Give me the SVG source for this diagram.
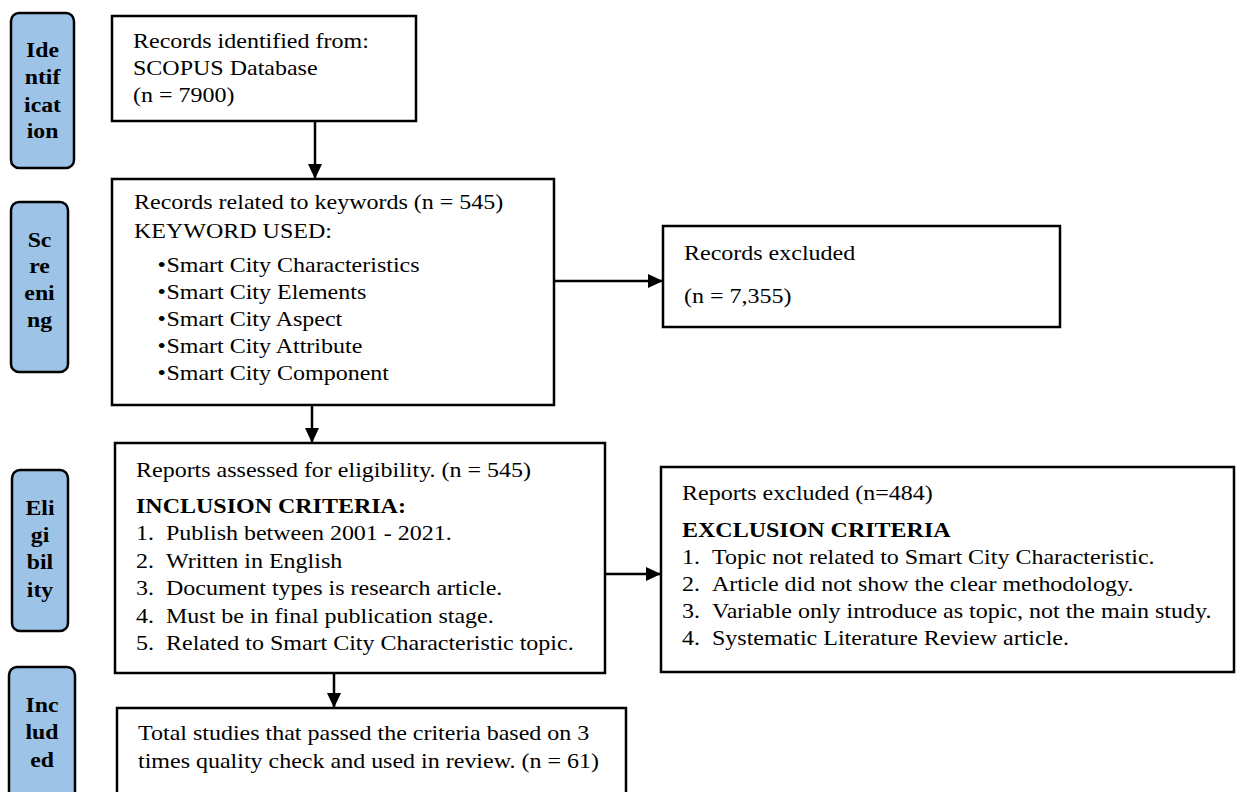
<svg xmlns="http://www.w3.org/2000/svg" width="1236" height="792" viewBox="0 0 1236 792">
<defs>
<marker id="ah" markerUnits="userSpaceOnUse" markerWidth="15" markerHeight="14" refX="15" refY="7" orient="auto">
<path d="M0,0 L15,7 L0,14 z" fill="#000"/>
</marker>
<style>
.tab{fill:#9DC3E6;stroke:#000;stroke-width:2.5}
.box{fill:#fff;stroke:#000;stroke-width:2.5}
.lbl{font-family:"Liberation Serif","Times New Roman",serif;font-weight:bold;font-size:22px;fill:#000;text-anchor:middle}
.t{font-family:"Liberation Serif","Times New Roman",serif;font-size:20px;fill:#000}
.b{font-weight:bold}
.con{stroke:#000;stroke-width:2.5;fill:none}
</style>
</defs>
<rect width="1236" height="792" fill="#fff"/>

<g id="tab-identification">
<rect class="tab" x="11" y="13" width="63" height="155" rx="8"/>
<g class="lbl" transform="translate(42.5 0) scale(1.08 1)">
<text x="0" y="57">Ide</text><text x="0" y="84">ntif</text><text x="0" y="112">icat</text><text x="0" y="138">ion</text>
</g>
</g>

<g id="tab-screening">
<rect class="tab" x="11" y="202" width="57" height="170" rx="8"/>
<g class="lbl" transform="translate(39.5 0) scale(1.08 1)">
<text x="0" y="247">Sc</text><text x="0" y="273">re</text><text x="0" y="300">eni</text><text x="0" y="327">ng</text>
</g>
</g>

<g id="tab-eligibility">
<rect class="tab" x="12" y="470" width="56" height="161" rx="8"/>
<g class="lbl" transform="translate(40 0) scale(1.08 1)">
<text x="0" y="515">Eli</text><text x="0" y="542">gi</text><text x="0" y="569">bil</text><text x="0" y="597">ity</text>
</g>
</g>

<g id="tab-included">
<rect class="tab" x="9" y="667" width="66" height="140" rx="8"/>
<g class="lbl" transform="translate(42 0) scale(1.08 1)">
<text x="0" y="712">Inc</text><text x="0" y="739">lud</text><text x="0" y="767">ed</text>
</g>
</g>

<g id="box-identified">
<rect class="box" x="112" y="16" width="304" height="105"/>
<g class="t" transform="translate(133 0) scale(1.2 1)">
<text x="0" y="48">Records identified from:</text>
<text x="0" y="75">SCOPUS Database</text>
<text x="0" y="102">(n = 7900)</text>
</g>
</g>

<g id="box-keywords">
<rect class="box" x="112" y="179" width="442" height="226"/>
<g class="t" transform="translate(134 0) scale(1.2 1)">
<text x="0" y="209">Records related to keywords (n = 545)</text>
<text x="0" y="238">KEYWORD USED:</text>
<text x="19.5" y="272">•</text><text x="27" y="272">Smart City Characteristics</text>
<text x="19.5" y="299">•</text><text x="27" y="299">Smart City Elements</text>
<text x="19.5" y="326">•</text><text x="27" y="326">Smart City Aspect</text>
<text x="19.5" y="353">•</text><text x="27" y="353">Smart City Attribute</text>
<text x="19.5" y="380">•</text><text x="27" y="380">Smart City Component</text>
</g>
</g>

<g id="box-records-excluded">
<rect class="box" x="663" y="226" width="397" height="101"/>
<g class="t" transform="translate(684 0) scale(1.2 1)">
<text x="0" y="260">Records excluded</text>
<text x="0" y="303">(n = 7,355)</text>
</g>
</g>

<g id="box-eligibility">
<rect class="box" x="115" y="443" width="490" height="230"/>
<g class="t" transform="translate(136 0) scale(1.2 1)">
<text x="0" y="477">Reports assessed for eligibility. (n = 545)</text>
<text class="b" x="0" y="513">INCLUSION CRITERIA:</text>
<text x="0" y="540">1.</text><text x="25" y="540">Publish between 2001 - 2021.</text>
<text x="0" y="568">2.</text><text x="25" y="568">Written in English</text>
<text x="0" y="595">3.</text><text x="25" y="595">Document types is research article.</text>
<text x="0" y="623">4.</text><text x="25" y="623">Must be in final publication stage.</text>
<text x="0" y="650">5.</text><text x="25" y="650">Related to Smart City Characteristic topic.</text>
</g>
</g>

<g id="box-reports-excluded">
<rect class="box" x="661" y="467" width="573" height="205"/>
<g class="t" transform="translate(682 0) scale(1.2 1)">
<text x="0" y="500">Reports excluded (n=484)</text>
<text class="b" x="0" y="537">EXCLUSION CRITERIA</text>
<text x="0" y="564">1.</text><text x="25" y="564">Topic not related to Smart City Characteristic.</text>
<text x="0" y="591">2.</text><text x="25" y="591">Article did not show the clear methodology.</text>
<text x="0" y="618">3.</text><text x="25" y="618">Variable only introduce as topic, not the main study.</text>
<text x="0" y="645">4.</text><text x="25" y="645">Systematic Literature Review article.</text>
</g>
</g>

<g id="box-included">
<rect class="box" x="117" y="708" width="509" height="110"/>
<g class="t" transform="translate(138 0) scale(1.2 1)">
<text x="0" y="740">Total studies that passed the criteria based on 3</text>
<text x="0" y="768">times quality check and used in review. (n = 61)</text>
</g>
</g>

<g id="connectors">
<line class="con" x1="315" y1="121" x2="315" y2="179" marker-end="url(#ah)"/>
<line class="con" x1="554" y1="281" x2="663" y2="281" marker-end="url(#ah)"/>
<line class="con" x1="312" y1="405" x2="312" y2="443" marker-end="url(#ah)"/>
<line class="con" x1="605" y1="574" x2="661" y2="574" marker-end="url(#ah)"/>
<line class="con" x1="334" y1="673" x2="334" y2="708" marker-end="url(#ah)"/>
</g>
</svg>
